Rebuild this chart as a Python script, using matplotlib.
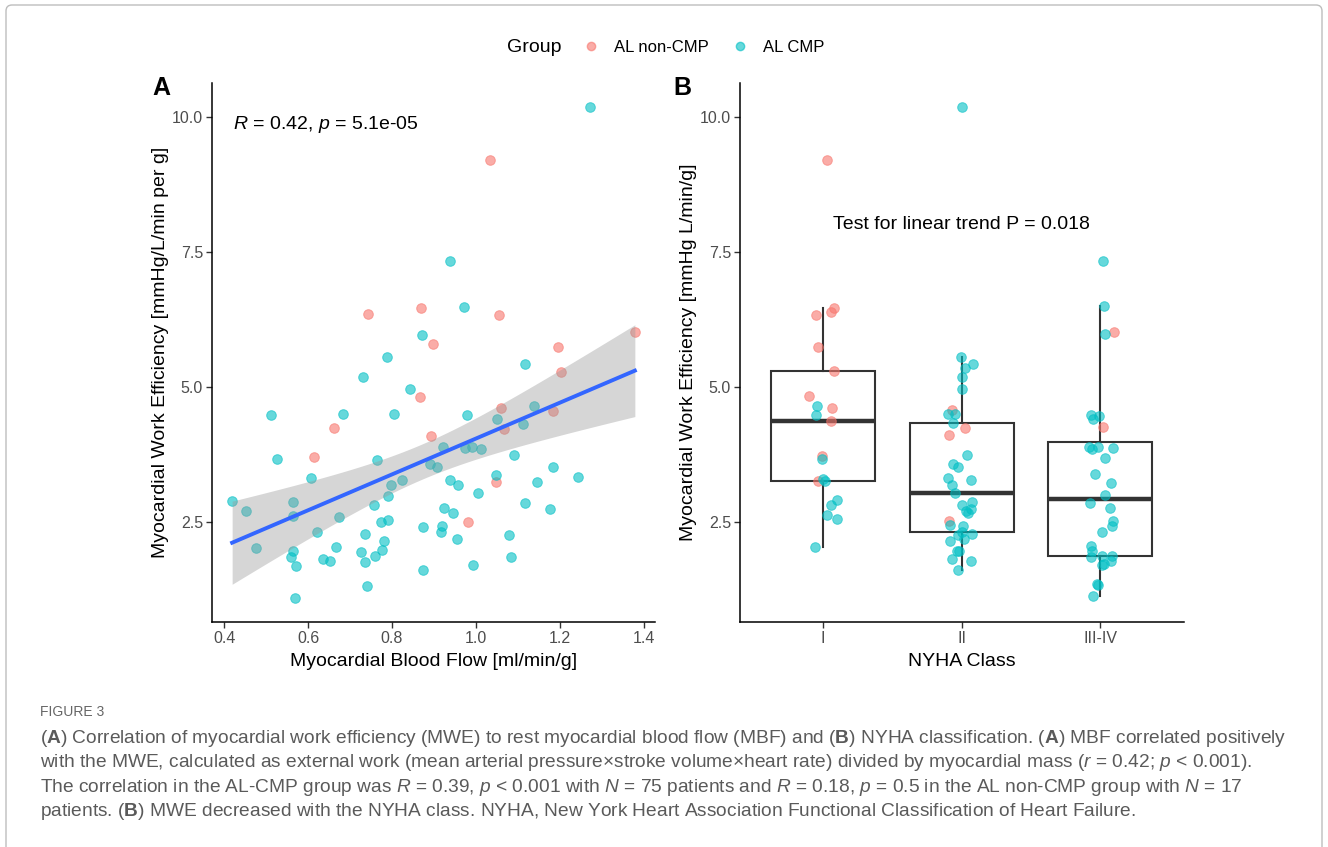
import numpy as np
import matplotlib.pyplot as plt
from matplotlib.lines import Line2D
from matplotlib.patches import FancyBboxPatch
from matplotlib.transforms import IdentityTransform

plt.rcParams['font.family'] = ['Liberation Sans', 'DejaVu Sans']
plt.rcParams['mathtext.fontset'] = 'custom'
plt.rcParams['mathtext.rm'] = 'Liberation Sans'
plt.rcParams['mathtext.it'] = 'Liberation Sans:italic'
plt.rcParams['mathtext.bf'] = 'Liberation Sans:bold'

# panel A: myocardial blood flow vs work efficiency
mbf_noncmp = [1.033, 0.744, 0.869, 1.056, 0.898, 1.195, 1.379, 1.203, 0.866, 1.060,
              1.183, 0.662, 1.068, 0.894, 0.614, 1.047, 0.982]
mwe_noncmp = [9.19, 6.36, 6.46, 6.33, 5.80, 5.74, 6.01, 5.28, 4.82, 4.62,
              4.56, 4.25, 4.22, 4.10, 3.70, 3.25, 2.50]

mbf_cmp = [1.271, 0.938, 0.971, 0.872, 0.788, 1.116, 0.732, 0.844, 0.511, 0.683,
           0.804, 0.980, 1.139, 1.050, 1.112, 0.921, 0.973, 0.990, 1.012, 0.526,
           0.765, 1.091, 0.891, 0.907, 1.185, 0.607, 1.048, 1.244, 0.939, 0.958,
           1.146, 0.823, 0.798, 0.790, 1.006, 0.419, 0.565, 0.453, 0.565, 0.674,
           0.756, 1.117, 1.177, 0.923, 0.946, 0.775, 0.790, 0.621, 0.735, 0.875,
           0.920, 0.917, 1.078, 0.956, 0.781, 0.476, 0.667, 0.564, 0.727, 0.776,
           0.559, 0.636, 0.653, 0.759, 1.084, 0.736, 0.571, 0.994, 0.874, 0.740,
           0.568]
mwe_cmp = [10.17, 7.34, 6.49, 5.97, 5.56, 5.42, 5.18, 4.97, 4.48, 4.51,
           4.50, 4.48, 4.65, 4.41, 4.32, 3.89, 3.88, 3.89, 3.85, 3.68,
           3.66, 3.75, 3.58, 3.52, 3.53, 3.33, 3.38, 3.34, 3.29, 3.20,
           3.25, 3.29, 3.20, 2.99, 3.04, 2.89, 2.88, 2.72, 2.62, 2.60,
           2.83, 2.85, 2.75, 2.76, 2.67, 2.50, 2.54, 2.32, 2.28, 2.41,
           2.44, 2.32, 2.27, 2.20, 2.16, 2.02, 2.05, 1.98, 1.96, 1.99,
           1.86, 1.82, 1.79, 1.88, 1.87, 1.76, 1.69, 1.71, 1.62, 1.33,
           1.11]

# panel B: work efficiency by NYHA class
nyha_classes = ["I", "II", "III-IV"]
mwe_I_noncmp = [9.19, 6.46, 6.38, 6.34, 5.74, 5.29, 4.83, 4.62, 4.37, 3.72, 3.27]
mwe_I_cmp = [4.66, 4.49, 3.67, 3.30, 3.26, 2.91, 2.82, 2.63, 2.56, 2.04]
mwe_II_noncmp = [4.57, 4.24, 4.11, 2.52]
mwe_II_cmp = [10.17, 5.55, 5.42, 5.35, 5.18, 4.97, 4.51, 4.50, 4.33, 3.75, 3.58,
              3.52, 3.32, 3.29, 3.20, 3.04, 2.88, 2.82, 2.75, 2.72, 2.67, 2.46,
              2.44, 2.32, 2.28, 2.27, 2.20, 2.16, 1.98, 1.98, 1.82, 1.79, 1.63]
mwe_III_noncmp = [6.01, 4.27]
mwe_III_cmp = [7.34, 6.50, 5.98, 4.49, 4.46, 4.42, 3.89, 3.89, 3.87, 3.85, 3.69,
               3.40, 3.22, 3.00, 2.86, 2.77, 2.52, 2.43, 2.33, 2.07, 1.98, 1.88,
               1.88, 1.87, 1.78, 1.73, 1.71, 1.36, 1.34, 1.14]

RED = '#F8766D'
CYAN = '#00BFC4'
W, H = 1328, 847

def rect(l, t, r, b):
    return [l / W, 1 - b / H, (r - l) / W, (b - t) / H]

fig = plt.figure(figsize=(W / 100, H / 100), dpi=100)
axA = fig.add_axes(rect(212, 83, 655, 622))
axB = fig.add_axes(rect(740, 83, 1183.5, 622))

def style(ax):
    for s in ['top', 'right']:
        ax.spines[s].set_visible(False)
    for s in ['left', 'bottom']:
        ax.spines[s].set_linewidth(1.1)
        ax.spines[s].set_color('black')
    ax.tick_params(length=4, width=1.0, color='#333333', labelcolor='#4D4D4D',
                   labelsize=11.5, pad=2.5)
    ax.set_ylim(0.66, 10.62)
    ax.set_yticks([2.5, 5.0, 7.5, 10.0])
    ax.set_yticklabels(['2.5', '5.0', '7.5', '10.0'])

# ---- A ----
pt = dict(s=48, alpha=0.6, linewidths=0.7)
axA.scatter(mbf_noncmp, mwe_noncmp, color=RED, edgecolors=RED, **pt, zorder=2)
axA.scatter(mbf_cmp, mwe_cmp, color=CYAN, edgecolors=CYAN, **pt, zorder=2)

x = np.array(mbf_noncmp + mbf_cmp)
y = np.array(mwe_noncmp + mwe_cmp)
b1, b0 = np.polyfit(x, y, 1)
n = len(x)
s = np.sqrt(np.sum((y - (b0 + b1 * x)) ** 2) / (n - 2))
sxx = np.sum((x - x.mean()) ** 2)
xs = np.linspace(x.min(), x.max(), 100)
fit = b0 + b1 * xs
se = s * np.sqrt(1 / n + (xs - x.mean()) ** 2 / sxx)
t = 1.988
axA.fill_between(xs, fit - t * se, fit + t * se, color='#999999', alpha=0.4, lw=0, zorder=3)
axA.plot(xs, fit, color='#3366FF', lw=2.8, zorder=4)

style(axA)
axA.set_xlim(0.371, 1.427)
axA.set_xticks([0.4, 0.6, 0.8, 1.0, 1.2, 1.4])
axA.set_xlabel('Myocardial Blood Flow [ml/min/g]', fontsize=14, labelpad=5)
axA.set_ylabel('Myocardial Work Efficiency [mmHg/L/min per g]', fontsize=14, labelpad=2)
axA.text(0.421, 9.85, r'$\mathit{R}$ = 0.42, $\mathit{p}$ = 5.1e-05', fontsize=14,
         va='center', ha='left')

# ---- B ----
groups_non = [mwe_I_noncmp, mwe_II_noncmp, mwe_III_noncmp]
groups_cmp = [mwe_I_cmp, mwe_II_cmp, mwe_III_cmp]
all_vals = [a + b for a, b in zip(groups_non, groups_cmp)]
pos = np.arange(1, len(nyha_classes) + 1)
axB.boxplot(all_vals, positions=pos, widths=0.75, showfliers=False, showcaps=False,
            patch_artist=True, whis=1.5,
            boxprops=dict(facecolor='white', edgecolor='#333333', linewidth=1.5),
            whiskerprops=dict(color='#333333', linewidth=1.5),
            medianprops=dict(color='#333333', linewidth=3.2))

rng = np.random.default_rng(7)
for p, vn, vc in zip(pos, groups_non, groups_cmp):
    jn = p + rng.uniform(-0.1, 0.1, len(vn))
    jc = p + rng.uniform(-0.1, 0.1, len(vc))
    axB.scatter(jn, vn, color=RED, edgecolors=RED, **pt, zorder=3)
    axB.scatter(jc, vc, color=CYAN, edgecolors=CYAN, **pt, zorder=3)

style(axB)
axB.set_xlim(0.4, 3.6)
axB.set_xticks(pos)
axB.set_xticklabels(nyha_classes)
axB.set_xlabel('NYHA Class', fontsize=14, labelpad=5)
axB.set_ylabel('Myocardial Work Efficiency [mmHg L/min/g]', fontsize=14, labelpad=2)
axB.text(2, 8.0, 'Test for linear trend P = 0.018', fontsize=14, ha='center', va='center')

# panel letters
fig.text(161 / W, 1 - 88 / H, 'A', fontsize=18, fontweight='bold', ha='center', va='center')
fig.text(682 / W, 1 - 88 / H, 'B', fontsize=18, fontweight='bold', ha='center', va='center')

# legend
fig.text(534 / W, 1 - 47 / H, 'Group', fontsize=14, ha='center', va='center')
handles = [Line2D([], [], marker='o', ls='', color=RED, alpha=0.6, ms=6, label='AL non-CMP'),
           Line2D([], [], marker='o', ls='', color=CYAN, alpha=0.6, ms=6, label='AL CMP')]
fig.legend(handles=handles, ncol=2, loc='center left', bbox_to_anchor=(576 / W, 1 - 47.5 / H),
           frameon=False, fontsize=12, handletextpad=0.9, columnspacing=1.35,
           handlelength=1.0, borderaxespad=0)

# caption
cap_color = '#5A5A5A'
fig.text(40 / W, 1 - 712 / H, 'FIGURE 3', fontsize=10, color='#666666', va='center')
lines = [
    r'($\mathbf{A}$) Correlation of myocardial work efficiency (MWE) to rest myocardial blood flow (MBF) and ($\mathbf{B}$) NYHA classification. ($\mathbf{A}$) MBF correlated positively',
    r'with the MWE, calculated as external work (mean arterial pressure×stroke volume×heart rate) divided by myocardial mass ($\mathit{r}$ = 0.42; $\mathit{p}$ < 0.001).',
    r'The correlation in the AL-CMP group was $\mathit{R}$ = 0.39, $\mathit{p}$ < 0.001 with $\mathit{N}$ = 75 patients and $\mathit{R}$ = 0.18, $\mathit{p}$ = 0.5 in the AL non-CMP group with $\mathit{N}$ = 17',
    r'patients. ($\mathbf{B}$) MWE decreased with the NYHA class. NYHA, New York Heart Association Functional Classification of Heart Failure.',
]
for i, ln in enumerate(lines):
    fig.text(40 / W, 1 - (738 + i * 24.5) / H, ln, fontsize=13.8, color=cap_color, va='center')

# outer frame
frame = FancyBboxPatch((6, -20), 1316, 862, boxstyle='round,pad=0,rounding_size=6',
                       transform=IdentityTransform(), fill=False, ec='#BDBDBD', lw=1)
fig.patches.append(frame)

fig.savefig('out.png', dpi=100)
